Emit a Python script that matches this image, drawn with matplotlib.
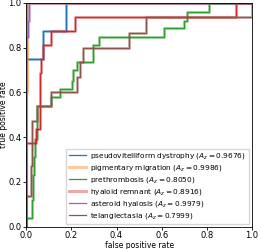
"""ROC curves for six vitreous findings, step curves with a pale halo."""

import matplotlib
matplotlib.use("Agg")
import matplotlib.pyplot as plt

# ── ROC points (fpr, tpr) ────────────────────────────────────────────────
names = ["pseudovitelliform dystrophy", "pigmentary migration", "prethrombosis",
         "hyaloid remnant", "asteroid hyalosis", "telangiectasia"]
auc = [0.9676, 0.9986, 0.8050, 0.8916, 0.9979, 0.7999]
colors = ["C0", "C1", "C2", "C3", "C4", "C5"]

fpr_pseudo = [0, 0, 0.073, 0.073, 0.175, 0.175, 1]
tpr_pseudo = [0, 0.75, 0.75, 0.875, 0.875, 1, 1]

fpr_pigment = [0, 0, 0.0035, 0.0035, 1]
tpr_pigment = [0, 0.6, 0.6, 1, 1]

fpr_preth = [0, 0, 0.024, 0.024, 0.03, 0.03, 0.036, 0.036, 0.04, 0.04, 0.047, 0.047,
             0.11, 0.11, 0.149, 0.149, 0.203, 0.203, 0.209, 0.209, 0.227, 0.227,
             0.296, 0.296, 0.323, 0.323, 0.61, 0.61, 0.70, 0.70, 0.71, 0.71,
             0.81, 0.81, 1]
tpr_preth = [0, 0.04, 0.04, 0.12, 0.12, 0.23, 0.23, 0.31, 0.31, 0.39, 0.39, 0.54,
             0.54, 0.58, 0.58, 0.617, 0.617, 0.65, 0.65, 0.70, 0.70, 0.735,
             0.735, 0.81, 0.81, 0.85, 0.85, 0.89, 0.89, 0.92, 0.92, 0.96,
             0.96, 1, 1]

fpr_hyaloid = [0, 0, 0.043, 0.043, 0.061, 0.061, 0.068, 0.068, 0.073, 0.073,
               0.11, 0.11, 0.215, 0.215, 0.93, 0.93, 1]
tpr_hyaloid = [0, 0.375, 0.375, 0.4375, 0.4375, 0.6875, 0.6875, 0.75, 0.75,
               0.8125, 0.8125, 0.875, 0.875, 0.9375, 0.9375, 1, 1]

fpr_asteroid = [0, 0, 0.009, 0.009, 0.014, 0.014, 1]
tpr_asteroid = [0, 0.85, 0.85, 0.92, 0.92, 1, 1]

fpr_telang = [0, 0, 0.02, 0.02, 0.026, 0.026, 0.05, 0.05, 0.11, 0.11, 0.223, 0.223,
              0.239, 0.239, 0.25, 0.25, 0.454, 0.454, 0.53, 0.53, 1, 1]
tpr_telang = [0, 0.135, 0.135, 0.27, 0.27, 0.47, 0.47, 0.54, 0.54, 0.60, 0.60, 0.67,
              0.67, 0.735, 0.735, 0.80, 0.80, 0.867, 0.867, 0.936, 0.936, 1]

curves = [(fpr_pseudo, tpr_pseudo), (fpr_pigment, tpr_pigment),
          (fpr_preth, tpr_preth), (fpr_hyaloid, tpr_hyaloid),
          (fpr_asteroid, tpr_asteroid), (fpr_telang, tpr_telang)]
# classes whose legend handle shows the pale halo instead of the thin line
pale_legend = {"pigmentary migration", "hyaloid remnant"}

plt.rcParams["font.family"] = "DejaVu Sans"
fig = plt.figure(figsize=(2.61, 2.49), dpi=100)
ax = fig.add_axes([0.1, 0.09, 0.866, 0.898])

for name, a, c, (fpr, tpr) in zip(names, auc, colors, curves):
    label = f"{name} ($A_z = {a:.4f}$)"
    pale = name in pale_legend
    ax.plot(fpr, tpr, color=c, linewidth=2.2, alpha=0.4,
            label=label if pale else None)
    ax.plot(fpr, tpr, color=c, linewidth=0.9,
            label=None if pale else label)

ax.set_xlim(0, 1)
ax.set_ylim(0, 1)
ax.set_xticks([0, 0.2, 0.4, 0.6, 0.8, 1.0])
ax.set_yticks([0, 0.2, 0.4, 0.6, 0.8, 1.0])
ax.tick_params(labelsize=6, length=2, pad=1.2, width=0.6)
ax.set_xlabel("false positive rate", fontsize=5.5, labelpad=0.5)
ax.set_ylabel("true positive rate", fontsize=5.5, labelpad=0.5)
for s in ax.spines.values():
    s.set_linewidth(0.6)

ax.legend(loc="lower right", fontsize=5.3, handlelength=2.3, labelspacing=0.25,
          borderpad=0.4, handletextpad=0.6, frameon=True, fancybox=False,
          edgecolor="#cccccc", borderaxespad=0.4)

fig.savefig("out.png", dpi=100)
